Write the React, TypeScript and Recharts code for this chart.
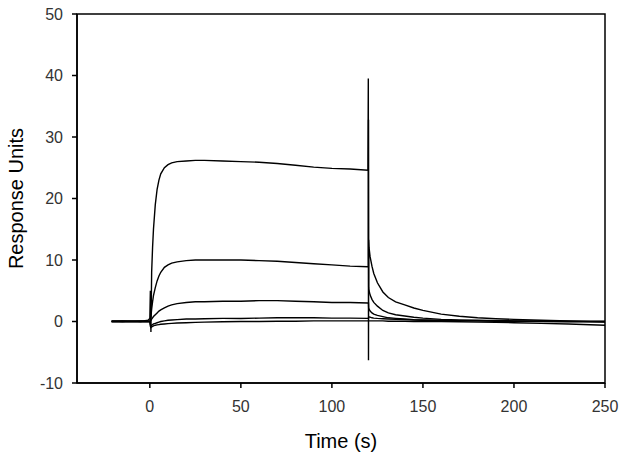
import React from 'react';
import { LineChart, Line, XAxis, YAxis, ReferenceArea, Label } from 'recharts';

// time points (s), shared by all five sensorgram curves
const TIMES = [
  -21, -15, -10, -5, -1, 0, 0.3, 0.6, 1, 1.5, 2, 3, 4, 5, 6, 8, 10, 12, 15, 20, 25, 30, 40, 50, 60, 70, 80, 90,
  100, 110, 119.8, 120, 120.1, 120.2, 120.4, 121, 122, 123, 125, 128, 131, 135, 140, 145, 150, 160, 170, 180, 190,
  200, 215, 230, 250,
];

const CURVE_1 = [
  0.1, 0, 0.1, 0, 0.2, 0.5, 5.0, -1.7, 8, 12, 15, 19, 21.5, 23, 24, 25, 25.5, 25.8, 26, 26.1, 26.2, 26.2, 26.1, 26.0,
  25.9, 25.7, 25.4, 25.1, 24.9, 24.8, 24.6, 39.5, -6.3, 13.3, 12, 10.5, 9.0, 7.8, 6.3, 4.8, 3.9, 3.2, 2.7, 2.2, 1.8,
  1.2, 0.85, 0.6, 0.45, 0.35, 0.2, 0.1, -0.1,
];

const CURVE_2 = [
  0, 0.05, 0, 0.05, 0, 0, 0.5, 0.8, 2, 3.2, 4.2, 5.5, 6.6, 7.4, 8, 8.8, 9.2, 9.5, 9.7, 9.9, 10.0, 10.0, 10.0, 10.0,
  9.9, 9.8, 9.6, 9.4, 9.2, 9.0, 8.9, 8.9, 32.8, 5.5, 5.0, 4.3, 3.6, 3.1, 2.5, 1.8, 1.4, 1.1, 0.9, 0.7, 0.55, 0.35,
  0.25, 0.2, 0.15, 0.1, 0.05, 0, 0,
];

const CURVE_3 = [
  0, 0.05, 0, 0.05, 0, 0, 0.1, 0.2, 0.4, 0.6, 0.8, 1.1, 1.4, 1.7, 1.9, 2.2, 2.5, 2.7, 2.9, 3.1, 3.2, 3.2, 3.3, 3.3,
  3.4, 3.4, 3.3, 3.2, 3.1, 3.1, 3.0, 3.0, 3.0, 2.2, 2.0, 1.7, 1.4, 1.2, 1.0, 0.8, 0.6, 0.5, 0.4, 0.3, 0.25, 0.2,
  0.15, 0.1, 0.1, 0.05, 0.05, 0, 0,
];

const CURVE_4 = [
  0, 0.05, 0, 0.05, 0, 0, -0.5, -0.8, -0.6, -0.5, -0.4, -0.3, -0.2, -0.1, 0, 0.1, 0.2, 0.25, 0.3, 0.4, 0.4, 0.45,
  0.5, 0.5, 0.55, 0.6, 0.6, 0.6, 0.55, 0.55, 0.5, 0.5, 0.5, 0.8, 0.75, 0.7, 0.6, 0.55, 0.5, 0.45, 0.4, 0.35, 0.3,
  0.25, 0.2, 0.15, 0.1, 0.1, 0.05, 0.05, 0, 0, 0,
];

const CURVE_5 = [
  0, 0.05, 0, 0.05, 0, 0, -0.8, -1.0, -0.9, -0.8, -0.7, -0.6, -0.55, -0.5, -0.45, -0.4, -0.35, -0.3, -0.25, -0.2,
  -0.15, -0.1, -0.05, 0, 0, 0.05, 0.05, 0.1, 0.1, 0.1, 0.1, 0.1, 0.1, 0.1, 0.1, 0.1, 0.1, 0.1, 0.1, 0.1, 0.05, 0.05,
  0.05, 0, 0, 0, -0.05, -0.1, -0.15, -0.2, -0.3, -0.4, -0.6,
];

const CURVES = [CURVE_1, CURVE_2, CURVE_3, CURVE_4, CURVE_5];

const X_TICKS = [0, 50, 100, 150, 200, 250];
const Y_TICKS = [-10, 0, 10, 20, 30, 40, 50];

const data = TIMES.map((t, i) => {
  const row: Record<string, number> = { t };
  CURVES.forEach((c, k) => {
    row[`c${k + 1}`] = c[i];
  });
  return row;
});

const FONT = 'Liberation Sans, Arial, sans-serif';
const tickStyle = { fontFamily: FONT, fontSize: 16, fill: '#333' };

export default function App() {
  return (
    <div style={{ width: 624, height: 460 }}>
      {/* drop the default body margin and any scrollbar so the svg fills the window */}
      <style>{'body { margin: 0; overflow: hidden; }'}</style>
      <LineChart width={624} height={460} data={data} margin={{ top: 14, right: 19, left: 0, bottom: 12 }}>
        <XAxis
          dataKey="t"
          type="number"
          domain={[-40, 250]}
          ticks={X_TICKS}
          allowDataOverflow
          height={65}
          tick={tickStyle}
          tickSize={5}
          tickMargin={13}
          stroke="#000"
          strokeWidth={1.5}
        >
          <Label value="Time (s)" position="insideBottom" offset={0} style={{ fontFamily: FONT, fontSize: 20, fill: '#000' }} />
        </XAxis>
        <YAxis
          type="number"
          domain={[-10, 50]}
          ticks={Y_TICKS}
          allowDataOverflow
          width={77}
          tick={tickStyle}
          tickSize={5}
          tickMargin={9}
          stroke="#000"
          strokeWidth={1.5}
        >
          <Label
            value="Response Units"
            angle={-90}
            position="insideLeft"
            offset={16}
            style={{ fontFamily: FONT, fontSize: 20, fill: '#000', textAnchor: 'middle' }}
          />
        </YAxis>
        <ReferenceArea x1={-40} x2={250} y1={-10} y2={50} fill="none" fillOpacity={0} stroke="#000" strokeWidth={1.5} />
        {CURVES.map((_, k) => (
          <Line
            key={k}
            dataKey={`c${k + 1}`}
            type="linear"
            stroke="#000"
            strokeWidth={1.4}
            dot={false}
            activeDot={false}
            isAnimationActive={false}
          />
        ))}
      </LineChart>
    </div>
  );
}
